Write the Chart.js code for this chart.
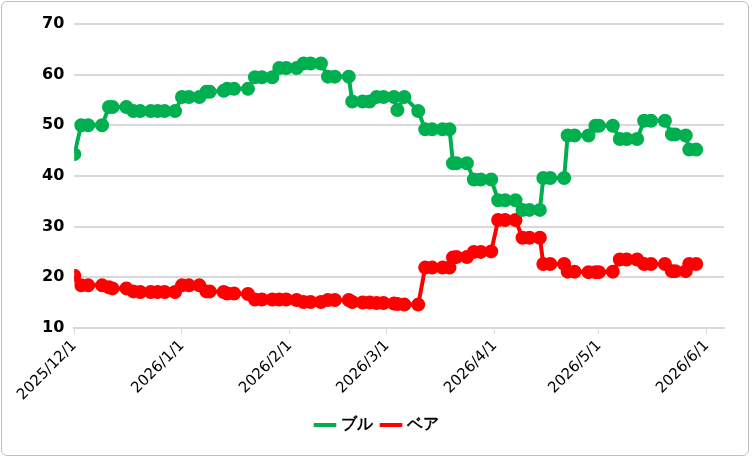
<!DOCTYPE html>
<html><head><meta charset="utf-8">
<script src="https://cdn.jsdelivr.net/npm/chart.js@4/dist/chart.umd.min.js"></script>
<style>html,body{margin:0;background:#fff}#w{position:absolute;left:1px;top:1px;width:748px;height:455px;border:1px solid #bfbfbf;border-radius:6px;box-sizing:border-box}</style>
</head><body><div id="w"><canvas id="c"></canvas></div>
<script>
const days=[0,2,4,8,10,11,15,17,19,22,24,26,29,31,33,36,38,39,43,44,46,50,52,54,57,59,61,64,66,68,71,73,75,79,80,83,85,87,89,92,93,95,99,101,103,106,108,109,110,113,115,117,120,122,124,127,129,131,134,135,137,141,142,144,148,150,151,155,157,159,162,164,166,170,172,173,176,177,179];
const bull=[44.3,50,50,50,53.6,53.6,53.6,52.8,52.8,52.8,52.8,52.8,52.8,55.6,55.6,55.6,56.6,56.6,56.8,57.2,57.2,57.2,59.5,59.5,59.5,61.3,61.3,61.3,62.2,62.2,62.2,59.6,59.6,59.6,54.7,54.7,54.7,55.6,55.6,55.6,53,55.6,52.8,49.2,49.2,49.2,49.2,42.5,42.5,42.5,39.3,39.3,39.3,35.2,35.2,35.2,33.3,33.3,33.3,39.6,39.6,39.6,48,48,48,49.9,49.9,49.9,47.3,47.3,47.3,50.9,50.9,50.9,48.2,48.2,48,45.2,45.2];
const bear=[20.3,18.4,18.4,18.4,18,17.8,17.8,17.2,17.1,17.1,17.1,17.1,17.1,18.4,18.4,18.4,17.2,17.2,17.1,16.8,16.8,16.7,15.6,15.6,15.6,15.6,15.6,15.5,15.1,15.1,15.1,15.5,15.5,15.5,15.1,15,15,14.9,14.9,14.8,14.7,14.6,14.6,21.9,21.9,21.9,21.9,23.9,24,24,25,25,25.1,31.3,31.3,31.3,27.8,27.8,27.8,22.6,22.6,22.6,21.1,21.1,21,21,21,21.1,23.5,23.5,23.5,22.6,22.6,22.6,21.2,21.2,21.2,22.6,22.6];
const tickDays=[0,31,62,90,121,151,182];
const tickLabels=['2025/12/1','2026/1/1','2026/2/1','2026/3/1','2026/4/1','2026/5/1','2026/6/1'];
const F='"DejaVu Sans", Verdana, sans-serif';
const mk=(l,v,c)=>({label:l,data:days.map((d,i)=>({x:d,y:v[i]})),borderColor:c,backgroundColor:c,borderWidth:4,pointRadius:5,pointHoverRadius:5,tension:0});
new Chart(document.getElementById('c'),{type:'line',
data:{datasets:[mk('ブル',bull,'#00B050'),mk('ベア',bear,'#FF0000')]},
options:{responsive:true,maintainAspectRatio:false,animation:false,
layout:{padding:{left:30,right:24,top:22,bottom:12}},
plugins:{legend:{position:'bottom',labels:{usePointStyle:true,pointStyle:'line',boxWidth:40,font:{family:F,size:16,weight:'bold'},color:'#000',padding:10,
generateLabels:ch=>ch.data.datasets.map((d,i)=>({text:d.label,strokeStyle:d.borderColor,fillStyle:d.borderColor,lineWidth:4,pointStyle:'line',datasetIndex:i,fontColor:'#000'}))}},tooltip:{enabled:false}},
scales:{
x:{type:'linear',min:0,max:187,afterBuildTicks:a=>{a.ticks=tickDays.map(v=>({value:v}));},
ticks:{autoSkip:false,maxRotation:45,minRotation:45,color:'#000',font:{family:F,size:15},callback:v=>tickLabels[tickDays.indexOf(v)]},
grid:{display:true,drawOnChartArea:false,tickLength:6,color:'#d9d9d9'},border:{color:'#d9d9d9',width:2}},
y:{min:10,max:70,ticks:{stepSize:10,color:'#000',font:{family:F,size:16,weight:'bold'},padding:10},
grid:{color:'#d9d9d9',lineWidth:2,drawTicks:false},border:{display:false}}}}});
</script></body></html>
